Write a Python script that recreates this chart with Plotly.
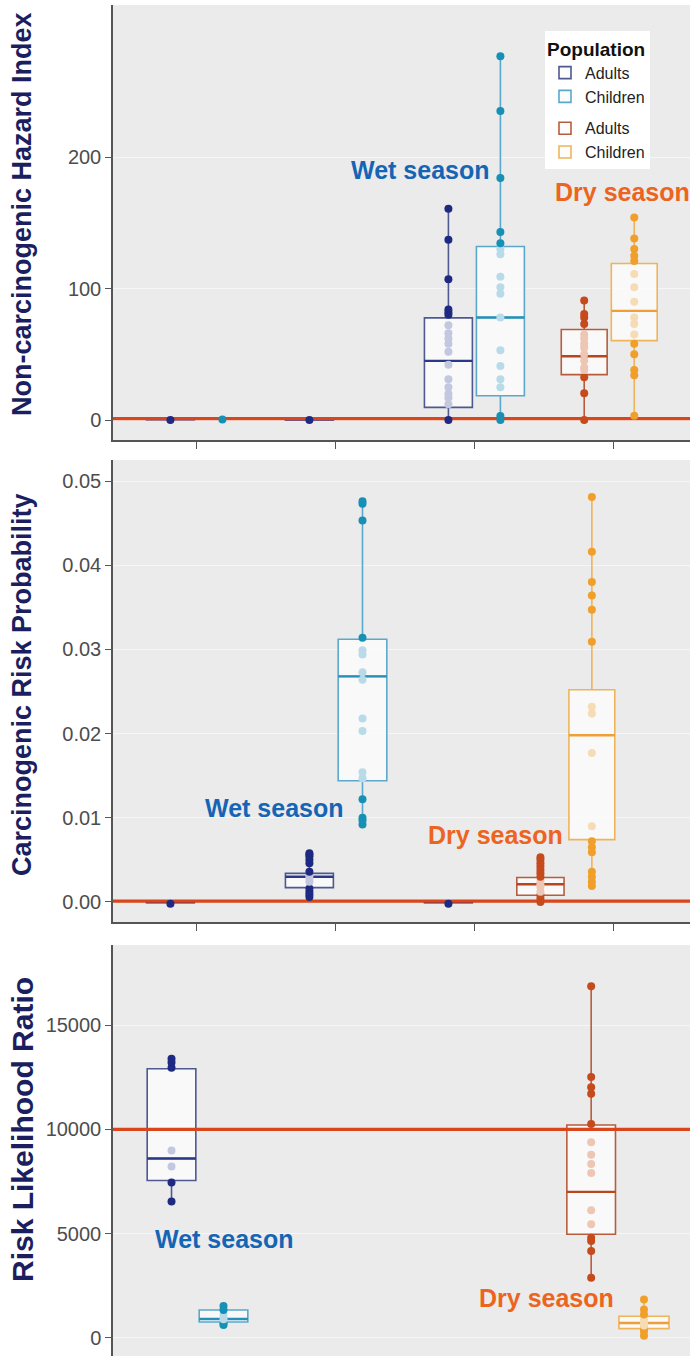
import numpy as np
import plotly.graph_objects as go

W, H = 690, 1356

# ---------------- data ----------------
series_names = ["Adults", "Children", "Adults", "Children"]
series_season = ["wet", "wet", "dry", "dry"]
categories = [1, 2, 3, 4]

# Panel 1: Non-carcinogenic Hazard Index (box stats: q1, median, q3, lower whisker, upper whisker)
hi_cat = [3, 3, 4, 4]
hi_q1 = [9.6, 18.5, 34.5, 60.4]
hi_med = [45.0, 78.0, 48.5, 83.0]
hi_q3 = [77.7, 132.0, 68.8, 119.0]
hi_lo = [0.0, 0.0, 0.0, 3.0]
hi_hi = [160.7, 276.6, 91.0, 154.0]
hi_pts_wet_adults = [0, 12, 17, 20, 25, 31, 42, 52, 58, 62, 66, 72, 80, 82, 84, 107, 137, 160.7]
hi_pts_wet_children = [0, 3, 25, 31, 41, 53, 78, 96, 101, 109, 126, 130, 134.5, 143, 184, 235, 276.6]
hi_pts_dry_adults = [0, 20.3, 32.5, 38, 40, 45, 50, 55, 58, 62, 65, 73, 78, 80.7, 90.9]
hi_pts_dry_children = [3.3, 34, 38, 50, 58, 65, 73, 78, 90, 101, 111, 121, 125, 130, 138, 154]
hi_minor_cat = [1, 1, 2]
hi_minor_series = [0, 1, 0]
hi_minor_vals = [[0.0, 0.2, 0.5, 0.9], [0.3, 0.8, 1.2, 1.8], [0.0, 0.1, 0.2]]
hi_threshold = 1

# Panel 2: Carcinogenic Risk Probability
cr_cat = [2, 2, 4, 4]
cr_q1 = [0.0017, 0.0144, 0.0008, 0.0074]
cr_med = [0.0030, 0.0268, 0.0021, 0.0198]
cr_q3 = [0.0034, 0.0312, 0.0029, 0.0252]
cr_lo = [0.0006, 0.0092, 0.0, 0.0019]
cr_hi = [0.0058, 0.0476, 0.0053, 0.0481]
cr_pts_wet_adults = [0.0006, 0.0009, 0.0012, 0.0016, 0.0024, 0.0028, 0.0031, 0.0036, 0.0046, 0.0050, 0.0054, 0.0056, 0.0058]
cr_pts_wet_children = [0.0092, 0.0097, 0.0100, 0.0122, 0.0147, 0.0154, 0.0203, 0.0218, 0.0264, 0.0273,
                       0.0294, 0.0299, 0.0314, 0.0453, 0.0473, 0.0476]
cr_pts_dry_adults = [0.0, 0.0004, 0.0008, 0.0012, 0.0018, 0.0021, 0.0025, 0.0030, 0.0034, 0.0038,
                     0.0042, 0.0046, 0.0050, 0.0053]
cr_pts_dry_children = [0.0019, 0.0024, 0.0030, 0.0036, 0.0059, 0.0065, 0.0072, 0.0090, 0.0177, 0.0224,
                       0.0232, 0.0309, 0.0347, 0.0364, 0.0380, 0.0416, 0.0481]
cr_minor_cat = [1, 3]
cr_minor_series = [0, 0]
cr_minor_vals = [[-0.0002, 0.0, 0.0001], [-0.0002, 0.0, 0.0001]]
cr_threshold = 0.0001

# Panel 3: Risk Likelihood Ratio
rl_cat = [1, 1, 4, 4]
rl_q1 = [7549, 765, 4969, 449]
rl_med = [8600, 908, 7005, 721]
rl_q3 = [12900, 1338, 10210, 1042]
rl_lo = [6546, 621, 2885, 112]
rl_hi = [13378, 1529, 16862, 1843]
rl_pts_wet_adults = [6546, 7453, 8218, 8982, 12950, 13200, 13378]
rl_pts_wet_children = [621, 700, 900, 1100, 1338, 1529]
rl_pts_dry_adults = [2885, 4168, 4649, 4800, 5450, 6123, 7902, 8335, 8784, 9377, 10259,
                     11702, 12022, 12503, 16862]
rl_pts_dry_children = [112, 320, 449, 600, 721, 900, 1122, 1362, 1843]
rl_threshold = 10000

y_titles = ["Non-carcinogenic Hazard Index", "Carcinogenic Risk Probability", "Risk Likelihood Ratio"]
hi_ticks = [0, 100, 200]
cr_ticks = [0, 0.01, 0.02, 0.03, 0.04, 0.05]
rl_ticks = [0, 5000, 10000, 15000]

# ---------------- style ----------------
POINT_COL = ["#1e2a82", "#1690b4", "#c54a1c", "#f0a02a"]
FADED_COL = ["#c3c7df", "#b9dbe9", "#eec6b4", "#f6dcb4"]
BOX_COL = ["#4f5891", "#5aa9cc", "#b75d3e", "#f0b458"]
MED_COL = ["#2b3787", "#2690b6", "#b8451c", "#eea037"]
BOX_FILL = "rgba(251,251,252,0.85)"
RED = "#d9461b"
WET_TXT = "#1565b5"
DRY_TXT = "#ec6420"
NAVY = "#1b1f5f"
SANS = "Liberation Sans, Arial, sans-serif"

OFFSETS = {
    "hi": [-0.187, 0.187, -0.21, 0.15],
    "cr": [-0.187, 0.195, -0.525, -0.155],
    "rl": [-0.179, 0.195, -0.16, 0.22],
}
WIDTHS = {
    "hi": [0.345, 0.345, 0.33, 0.33],
    "cr": [0.345, 0.35, 0.34, 0.33],
    "rl": [0.35, 0.35, 0.35, 0.36],
}

# pixel layout of panels (top, bottom) in figure pixels
PANELS_PX = [(5, 440), (460, 922), (945, 1356)]
X_LEFT_PX = 113
X_RANGE = [0.4, 0.4 + (W - X_LEFT_PX) / 139.0]
Y_RANGES = [[-15.2, 315.6], [-0.00238, 0.0525], [-863, 18834]]

fig = go.Figure()


def add_panel(key, idx, cat, q1, med, q3, lo, hi, pts_list, threshold, minor=None, legend=False):
    xa = "x" if idx == 1 else f"x{idx}"
    ya = "y" if idx == 1 else f"y{idx}"
    offs = OFFSETS[key]
    wids = WIDTHS[key]
    minor_pts = []
    if minor is not None:
        mcat, mser, mvals = minor
        for c, s, vals in zip(mcat, mser, mvals):
            v = np.array(vals, dtype=float)
            pos = c + offs[s]
            fig.add_trace(go.Box(
                x=[pos], q1=[float(np.percentile(v, 25))], median=[float(np.median(v))],
                q3=[float(np.percentile(v, 75))], lowerfence=[float(v.min())], upperfence=[float(v.max())],
                width=wids[s], line=dict(color=POINT_COL[s] if s == 0 else BOX_COL[s], width=1.5),
                fillcolor=BOX_FILL, whiskerwidth=0, boxpoints=False, showlegend=False,
                hoverinfo="skip", xaxis=xa, yaxis=ya))
            minor_pts.append((pos, float(v.min()), s))
    for s in range(4):
        pos = cat[s] + offs[s]
        fig.add_trace(go.Box(
            x=[pos], q1=[q1[s]], median=[med[s]], q3=[q3[s]],
            lowerfence=[lo[s]], upperfence=[hi[s]],
            width=wids[s], line=dict(color=BOX_COL[s], width=1.6),
            fillcolor=BOX_FILL, whiskerwidth=0, boxpoints=False,
            name=series_names[s], legendgroup=series_season[s],
            showlegend=legend, hoverinfo="skip", xaxis=xa, yaxis=ya))
    # threshold reference line (spans the full x range)
    fig.add_trace(go.Scatter(
        x=X_RANGE, y=[threshold, threshold], mode="lines",
        line=dict(color=RED, width=3.2), showlegend=False, hoverinfo="skip",
        xaxis=xa, yaxis=ya))
    # bold median lines (ggplot style)
    for s in range(4):
        pos = cat[s] + offs[s]
        fig.add_trace(go.Scatter(
            x=[pos - wids[s] / 2, pos + wids[s] / 2], y=[med[s], med[s]], mode="lines",
            line=dict(color=MED_COL[s], width=2.4), showlegend=False, hoverinfo="skip",
            xaxis=xa, yaxis=ya))
    for pos, val, s in minor_pts:
        fig.add_trace(go.Scatter(
            x=[pos], y=[val], mode="markers",
            marker=dict(color=POINT_COL[s], size=8), showlegend=False,
            hoverinfo="skip", xaxis=xa, yaxis=ya))
    for s in range(4):
        pos = cat[s] + offs[s]
        vals = np.array(pts_list[s], dtype=float)
        cols = [FADED_COL[s] if (q1[s] < v < q3[s]) else POINT_COL[s] for v in vals]
        fig.add_trace(go.Scatter(
            x=[pos] * len(vals), y=vals, mode="markers",
            marker=dict(color=cols, size=8, line=dict(width=0)),
            showlegend=False, hoverinfo="skip", xaxis=xa, yaxis=ya))


add_panel("hi", 1, hi_cat, hi_q1, hi_med, hi_q3, hi_lo, hi_hi,
          [hi_pts_wet_adults, hi_pts_wet_children, hi_pts_dry_adults, hi_pts_dry_children],
          hi_threshold, minor=(hi_minor_cat, hi_minor_series, hi_minor_vals), legend=True)
add_panel("cr", 2, cr_cat, cr_q1, cr_med, cr_q3, cr_lo, cr_hi,
          [cr_pts_wet_adults, cr_pts_wet_children, cr_pts_dry_adults, cr_pts_dry_children],
          cr_threshold, minor=(cr_minor_cat, cr_minor_series, cr_minor_vals))
add_panel("rl", 3, rl_cat, rl_q1, rl_med, rl_q3, rl_lo, rl_hi,
          [rl_pts_wet_adults, rl_pts_wet_children, rl_pts_dry_adults, rl_pts_dry_children],
          rl_threshold)

tick_sets = [hi_ticks, cr_ticks, rl_ticks]
tick_fmt = ["d", ".2f", "d"]

layout = dict(
    width=W, height=H, margin=dict(l=0, r=0, t=0, b=0),
    paper_bgcolor="white", plot_bgcolor="#ebebeb",
    boxmode="overlay", showlegend=True, hovermode=False,
    legend=dict(
        x=545 / W, y=1 - 31 / H, xanchor="left", yanchor="top",
        bgcolor="white", borderwidth=0,
        title=dict(text="<b>Population</b>", font=dict(size=19, color="#111", family=SANS)),
        font=dict(size=16, color="#222", family=SANS),
        traceorder="grouped", tracegroupgap=8, itemwidth=30,
    ),
    annotations=[],
)

for i in range(3):
    top_px, bot_px = PANELS_PX[i]
    dom = [max(0.0, 1 - bot_px / H), min(1.0, 1 - top_px / H)]
    xk = "xaxis" if i == 0 else f"xaxis{i + 1}"
    yk = "yaxis" if i == 0 else f"yaxis{i + 1}"
    yname = "y" if i == 0 else f"y{i + 1}"
    xname = "x" if i == 0 else f"x{i + 1}"
    last = i == 2
    layout[xk] = dict(
        domain=[X_LEFT_PX / W, 1], range=X_RANGE, anchor=yname,
        tickvals=categories, showticklabels=False,
        ticks="" if last else "outside", ticklen=7, tickwidth=1.2, tickcolor="#555",
        showgrid=False, zeroline=False,
        showline=not last, linecolor="#555", linewidth=1.5, automargin=False,
    )
    layout[yk] = dict(
        domain=dom, range=Y_RANGES[i], anchor=xname,
        tickvals=tick_sets[i], tickformat=tick_fmt[i],
        ticks="outside", ticklen=6, tickwidth=1.2, tickcolor="#555",
        tickfont=dict(size=20, color="#4d4d4d", family=SANS),
        showgrid=True, gridcolor="#f6f6f6", gridwidth=1, zeroline=False,
        showline=True, linecolor="#555", linewidth=1.5, automargin=False,
    )
    mid_px = [214, 685, 1130][i]
    layout["annotations"].append(dict(
        text=f"<b>{y_titles[i]}</b>", xref="paper", yref="paper",
        x=22 / W, y=1 - mid_px / H, xanchor="center", yanchor="middle",
        textangle=-90, showarrow=False,
        font=dict(size=[27, 27, 30][i], color=NAVY, family=SANS)))

season_labels = [("Wet season", 420, 170, WET_TXT), ("Dry season", 622, 192, DRY_TXT),
                 ("Wet season", 274, 808, WET_TXT), ("Dry season", 495, 835, DRY_TXT),
                 ("Wet season", 224, 1239, WET_TXT), ("Dry season", 546, 1298, DRY_TXT)]
for txt, px, py, col in season_labels:
    layout["annotations"].append(dict(
        text=f"<b>{txt}</b>", xref="paper", yref="paper", x=px / W, y=1 - py / H,
        xanchor="center", yanchor="middle", showarrow=False,
        font=dict(size=25, color=col, family=SANS)))

fig.update_layout(**layout)
fig.write_html("out.html", config={"displayModeBar": False},
               post_script="document.body.style.margin='0px';")
